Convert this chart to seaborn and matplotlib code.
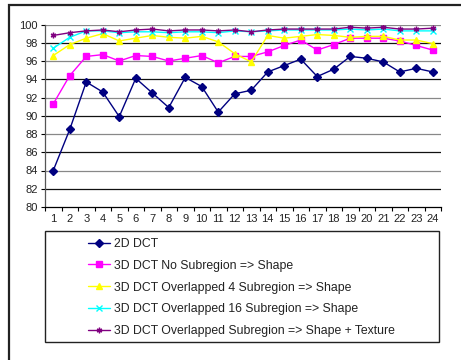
import matplotlib
matplotlib.use("Agg")
import matplotlib.pyplot as plt
import seaborn as sns
import pandas as pd
from matplotlib.patches import Rectangle

sns.set_theme(style="white")
plt.rcParams["font.family"] = ["Liberation Sans", "DejaVu Sans"]

# Recognition rate per test case
cases = list(range(1, 25))
dct_2d = [84.0, 88.5, 93.7, 92.6, 89.9, 94.1, 92.5, 90.9, 94.2, 93.2, 90.4, 92.4,
          92.8, 94.8, 95.5, 96.2, 94.3, 95.1, 96.5, 96.3, 95.9, 94.8, 95.2, 94.8]
dct_3d_none = [91.3, 94.4, 96.5, 96.7, 96.0, 96.6, 96.5, 96.0, 96.3, 96.6, 95.8, 96.5,
               96.5, 97.0, 97.7, 98.3, 97.2, 97.8, 98.5, 98.5, 98.5, 98.2, 97.7, 97.2]
dct_3d_ov4 = [96.6, 97.8, 98.5, 99.0, 98.2, 98.5, 98.8, 98.6, 98.5, 98.7, 98.1, 96.8,
              95.9, 98.8, 98.5, 98.7, 98.9, 98.8, 98.6, 98.7, 98.7, 98.3, 98.3, 97.9]
dct_3d_ov16 = [97.4, 98.6, 99.3, 99.3, 99.1, 99.2, 99.2, 99.1, 99.2, 99.2, 99.1, 99.3,
               99.2, 99.3, 99.4, 99.4, 99.4, 99.4, 99.5, 99.4, 99.5, 99.3, 99.3, 99.3]
dct_3d_ov_tex = [98.8, 99.1, 99.3, 99.4, 99.2, 99.4, 99.5, 99.3, 99.4, 99.4, 99.3, 99.4,
                 99.2, 99.4, 99.5, 99.5, 99.5, 99.5, 99.7, 99.6, 99.7, 99.5, 99.5, 99.6]

labels = ["2D DCT",
          "3D DCT No Subregion => Shape",
          "3D DCT Overlapped 4 Subregion => Shape",
          "3D DCT Overlapped 16 Subregion => Shape",
          "3D DCT Overlapped Subregion => Shape + Texture"]
series = [dct_2d, dct_3d_none, dct_3d_ov4, dct_3d_ov16, dct_3d_ov_tex]
colors = ["#000080", "#FF00FF", "#FFFF00", "#00FFFF", "#800080"]
markers = ["D", "s", "^", "x", (6, 2, 0)]
msizes = [4, 5, 5.5, 5.5, 6.5]
y_ticks = list(range(80, 101, 2))

W, H = 461, 360
fig = plt.figure(figsize=(W / 100, H / 100), dpi=100)
fig.patch.set_facecolor("white")

# outer chart frame (left and top edges visible)
fig.add_artist(Rectangle((8.5 / W, -0.05), 1.2, 1 - 5.5 / H + 0.05,
                         transform=fig.transFigure, fill=False,
                         edgecolor="#222222", linewidth=1.6))

ax = fig.add_axes([45 / W, 1 - 207 / H, (441 - 45) / W, (207 - 24.5) / H])
ax.set_facecolor("white")

for vals, lab, col, mk, ms in zip(series, labels, colors, markers, msizes):
    df = pd.DataFrame({"case": cases, "rate": vals})
    sns.lineplot(data=df, x="case", y="rate", ax=ax, color=col, marker=mk,
                 markersize=ms, markeredgecolor=col, markerfacecolor=col,
                 markeredgewidth=1.0, linewidth=1.0, label=lab, legend=False)

ax.set_xlim(0.5, 24.5)
ax.set_ylim(80, 100)
ax.set_yticks(y_ticks)
ax.set_yticklabels([str(v) for v in y_ticks], fontsize=8, color="#222222")
ax.set_xticks(cases)
ax.set_xticklabels([str(c) for c in cases], fontsize=8, color="#222222")
ax.set_xticks([c - 0.5 for c in cases] + [24.5], minor=True)
ax.tick_params(axis="x", which="major", length=0, pad=5)
ax.tick_params(axis="x", which="minor", length=3, width=0.8, color="black",
               direction="out", bottom=True)
ax.tick_params(axis="y", length=3, width=0.8, color="black", direction="out",
               left=True, pad=2)
ax.set_xlabel("")
ax.set_ylabel("")

# horizontal gridlines
for v in y_ticks[1:]:
    c = "#111111" if (v // 2) % 2 == 1 else "#888888"
    ax.axhline(v, color=c, linewidth=0.9, zorder=0.5)

for s in ["top", "right"]:
    ax.spines[s].set_visible(False)
ax.spines["left"].set_color("#555555")
ax.spines["left"].set_linewidth(0.9)
ax.spines["bottom"].set_color("black")
ax.spines["bottom"].set_linewidth(0.9)

# legend box below the plot
lx0, lx1, ly0, ly1 = 44.5, 438.5, 230.5, 341.5
fig.add_artist(Rectangle((lx0 / W, 1 - ly1 / H), (lx1 - lx0) / W, (ly1 - ly0) / H,
                         transform=fig.transFigure, fill=False,
                         edgecolor="#222222", linewidth=1.0))
handles, labs = ax.get_legend_handles_labels()
for h in handles:
    h.set_markersize(4)
fig.legend(handles, labs, loc="center",
           bbox_to_anchor=((lx0 + lx1) / 2 / W, 1 - ((ly0 + ly1) / 2 + 1.5) / H),
           frameon=False, fontsize=8.8, labelspacing=0.8, handlelength=1.8,
           handletextpad=0.35, borderpad=0, labelcolor="#222222")

fig.savefig("out.png", dpi=100, facecolor="white")
